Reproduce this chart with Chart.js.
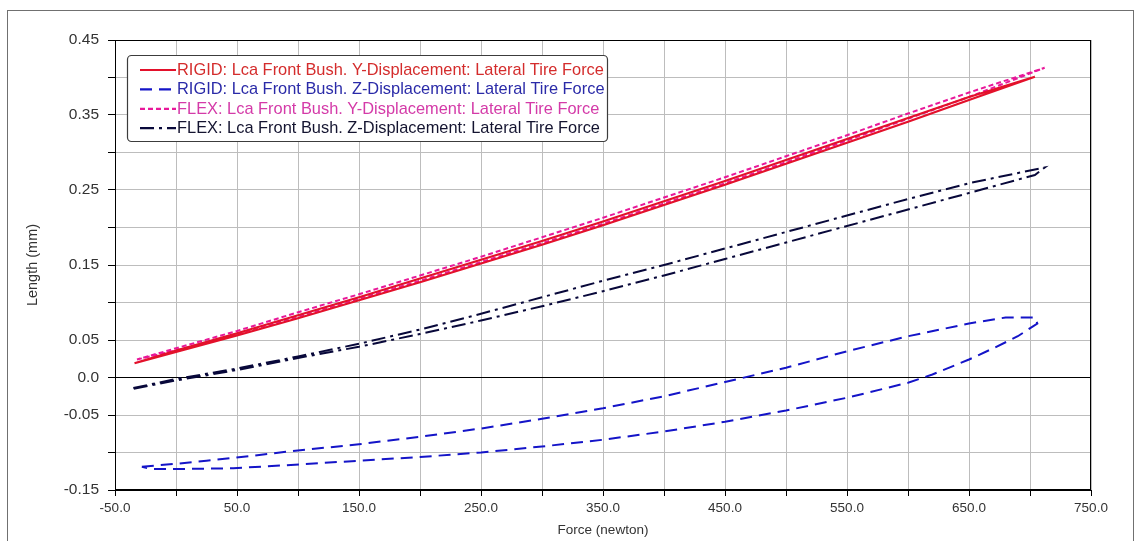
<!DOCTYPE html>
<html>
<head>
<meta charset="utf-8">
<title>Lca Front Bush displacement vs Lateral Tire Force</title>
<script src="https://cdn.jsdelivr.net/npm/chart.js@4.4.1/dist/chart.umd.min.js"></script>
<style>
  html, body { margin: 0; padding: 0; background: #ffffff; }
  canvas { display: block; }
</style>
</head>
<body>
<canvas id="chart" width="1138" height="541"></canvas>
<script>
// Axis ticks and labels
const xGridValues = [-50, 0, 50, 100, 150, 200, 250, 300, 350, 400, 450, 500, 550, 600, 650, 700, 750];
const xTickLabels = ['-50.0', '', '50.0', '', '150.0', '', '250.0', '', '350.0', '', '450.0', '', '550.0', '', '650.0', '', '750.0'];
const yGridValues = [-0.15, -0.10, -0.05, 0.00, 0.05, 0.10, 0.15, 0.20, 0.25, 0.30, 0.35, 0.40, 0.45];
const yTickLabels = ['-0.15', '', '-0.05', '0.0', '0.05', '', '0.15', '', '0.25', '', '0.35', '', '0.45'];

const xAxisTitle = 'Force (newton)';
const yAxisTitle = 'Length (mm)';

const seriesNames = [
  'RIGID: Lca Front Bush. Y-Displacement: Lateral Tire Force',
  'RIGID: Lca Front Bush. Z-Displacement: Lateral Tire Force',
  'FLEX: Lca Front Bush. Y-Displacement: Lateral Tire Force',
  'FLEX: Lca Front Bush. Z-Displacement: Lateral Tire Force'
];

// RIGID Y-displacement (loading, then unloading)
const rigidYForce = [-34, 0, 50, 100, 150, 200, 250, 300, 350, 400, 450, 500, 550, 600, 650, 704,
                     650, 600, 550, 500, 450, 400, 350, 300, 250, 200, 150, 100, 50, 0, -34];
const rigidYLength = [0.019, 0.034, 0.056, 0.079, 0.103, 0.127, 0.152, 0.177, 0.203, 0.230, 0.257, 0.285, 0.313, 0.341, 0.370, 0.401,
                      0.374, 0.346, 0.318, 0.290, 0.262, 0.235, 0.208, 0.182, 0.157, 0.132, 0.107, 0.083, 0.059, 0.036, 0.019];

// RIGID Z-displacement loop
const rigidZForce = [-28, 0, 25, 60, 90, 150, 200, 250, 300, 350, 400, 450, 500, 550, 600, 650, 680, 704, 706,
                     690, 670, 650, 620, 600, 550, 500, 450, 400, 350, 300, 250, 200, 150, 90, 47, 0, -20, -28];
const rigidZLength = [-0.119, -0.115, -0.111, -0.105, -0.099, -0.089, -0.079, -0.068, -0.055, -0.041, -0.025, -0.006, 0.013, 0.035, 0.055, 0.072, 0.080, 0.080, 0.072,
                      0.055, 0.039, 0.024, 0.004, -0.007, -0.027, -0.044, -0.059, -0.072, -0.083, -0.092, -0.100, -0.106, -0.111, -0.117, -0.121, -0.122, -0.122, -0.119];

// FLEX Y-displacement
const flexYForce = [-32, 0, 50, 100, 150, 200, 250, 300, 350, 400, 450, 500, 550, 600, 650, 712,
                    650, 600, 550, 500, 450, 400, 350, 300, 250, 200, 150, 100, 50, 0, -32];
const flexYLength = [0.024, 0.036, 0.058, 0.081, 0.105, 0.129, 0.154, 0.179, 0.205, 0.232, 0.259, 0.287, 0.316, 0.345, 0.374, 0.413,
                     0.380, 0.352, 0.323, 0.295, 0.267, 0.240, 0.213, 0.187, 0.161, 0.136, 0.111, 0.087, 0.062, 0.039, 0.024];

// FLEX Z-displacement
const flexZForce = [-35, 0, 50, 100, 150, 200, 250, 300, 350, 400, 450, 500, 550, 600, 650, 700, 712,
                    704, 650, 600, 550, 500, 450, 400, 350, 300, 250, 200, 150, 100, 50, 0, -35];
const flexZLength = [-0.014, -0.002, 0.012, 0.028, 0.045, 0.064, 0.085, 0.107, 0.129, 0.150, 0.172, 0.194, 0.216, 0.238, 0.259, 0.276, 0.280,
                     0.270, 0.246, 0.224, 0.202, 0.180, 0.158, 0.136, 0.115, 0.095, 0.076, 0.058, 0.041, 0.026, 0.010, -0.004, -0.015];

const toPoints = (xs, ys) => xs.map((x, i) => ({ x: x, y: ys[i] }));

const datasets = [
  { label: seriesNames[0], data: toPoints(rigidYForce, rigidYLength), borderColor: '#e3112b', borderWidth: 2.3, borderDash: [], textColor: '#d42c2c' },
  { label: seriesNames[1], data: toPoints(rigidZForce, rigidZLength), borderColor: '#1414c8', borderWidth: 2, borderDash: [12, 7], textColor: '#2a2aa8' },
  { label: seriesNames[2], data: toPoints(flexYForce, flexYLength), borderColor: '#e8189a', borderWidth: 2, borderDash: [5, 3], textColor: '#d43aa8' },
  { label: seriesNames[3], data: toPoints(flexZForce, flexZLength), borderColor: '#08083a', borderWidth: 2, borderDash: [14, 5, 3, 5], textColor: '#141430' }
].map(d => Object.assign(d, { fill: false, pointRadius: 0, tension: 0 }));

const sansFamily = "'Liberation Sans', Arial, sans-serif";

function labelFor(values, labels, v) {
  const i = values.findIndex(g => Math.abs(g - v) < 1e-9);
  return i >= 0 ? labels[i] : '';
}

// Page frame, plot border and in-plot legend
const framePlugin = {
  id: 'frame',
  beforeDraw(chart) {
    const c = chart.ctx;
    c.save();
    c.fillStyle = '#ffffff';
    c.fillRect(0, 0, chart.width, chart.height);
    c.strokeStyle = '#707070';
    c.lineWidth = 1;
    c.strokeRect(7.5, 10.5, 1126, 600);
    c.restore();
  },
  afterDatasetsDraw(chart) {
    const c = chart.ctx;
    const a = chart.chartArea;
    c.save();
    c.strokeStyle = '#000000';
    c.lineWidth = 1;
    c.strokeRect(Math.round(a.left) + 0.5, Math.round(a.top) + 0.5, Math.round(a.right - a.left) - 1, Math.round(a.bottom - a.top) - 1);

    // legend box
    const bx = 127.5, by = 55.5, bw = 480, bh = 86, r = 4;
    c.beginPath();
    c.moveTo(bx + r, by);
    c.arcTo(bx + bw, by, bx + bw, by + bh, r);
    c.arcTo(bx + bw, by + bh, bx, by + bh, r);
    c.arcTo(bx, by + bh, bx, by, r);
    c.arcTo(bx, by, bx + bw, by, r);
    c.closePath();
    c.fillStyle = '#ffffff';
    c.fill();
    c.strokeStyle = '#3c3c3c';
    c.lineWidth = 1.2;
    c.stroke();

    c.font = "16.4px " + sansFamily;
    c.textBaseline = 'middle';
    c.textAlign = 'left';
    chart.data.datasets.forEach((ds, i) => {
      const yRow = 70 + i * 19.4;
      c.beginPath();
      c.setLineDash(ds.borderDash);
      c.strokeStyle = ds.borderColor;
      c.lineWidth = 2.2;
      c.moveTo(140, yRow);
      c.lineTo(176, yRow);
      c.stroke();
      c.setLineDash([]);
      c.fillStyle = ds.textColor;
      c.fillText(ds.label, 177, yRow + 0.5);
    });
    c.restore();
  }
};

new Chart(document.getElementById('chart'), {
  type: 'line',
  data: { datasets: datasets },
  options: {
    responsive: false,
    animation: false,
    events: [],
    layout: { padding: { left: 0, right: 47, top: 40, bottom: 0 } },
    plugins: { legend: { display: false }, tooltip: { enabled: false } },
    scales: {
      x: {
        type: 'linear',
        min: -50,
        max: 750,
        afterBuildTicks: s => { s.ticks = xGridValues.map(v => ({ value: v })); },
        afterFit: s => { s.height = 51; },
        ticks: {
          autoSkip: false,
          maxRotation: 0,
          padding: 4,
          color: '#333333',
          font: { family: sansFamily, size: 13.5 },
          callback: v => labelFor(xGridValues, xTickLabels, v)
        },
        grid: { color: '#bdbdbd', lineWidth: 1, tickLength: 6, tickColor: '#000000', drawTicks: true },
        border: { display: true, color: '#000000', width: 1 },
        title: { display: true, text: xAxisTitle, color: '#333333', font: { family: sansFamily, size: 13.5 }, padding: { top: 0, bottom: 3 } }
      },
      y: {
        type: 'linear',
        min: -0.15,
        max: 0.45,
        afterBuildTicks: s => { s.ticks = yGridValues.map(v => ({ value: v })); },
        afterFit: s => { s.width = 115; },
        ticks: {
          autoSkip: false,
          padding: 9,
          color: '#333333',
          font: { family: sansFamily, size: 15.5 },
          callback: v => labelFor(yGridValues, yTickLabels, v)
        },
        grid: {
          color: c => (c.tick && Math.abs(c.tick.value) < 1e-9) ? '#000000' : '#bdbdbd',
          lineWidth: 1,
          tickLength: 7,
          tickColor: '#000000',
          drawTicks: true
        },
        border: { display: true, color: '#000000', width: 1 },
        title: { display: true, text: yAxisTitle, color: '#333333', font: { family: sansFamily, size: 14.5 }, padding: { top: 24, bottom: 0 } }
      }
    }
  },
  plugins: [framePlugin]
});
</script>
</body>
</html>
